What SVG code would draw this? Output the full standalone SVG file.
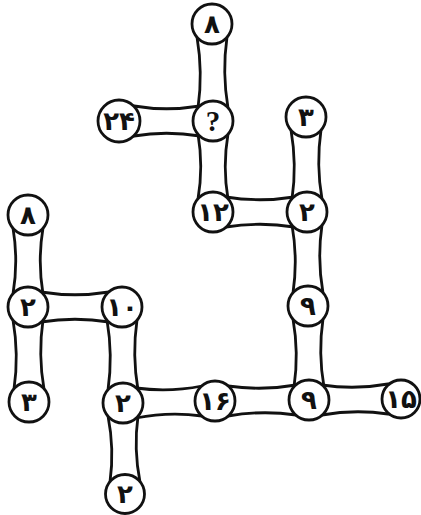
<svg xmlns="http://www.w3.org/2000/svg" width="421" height="515" viewBox="0 0 421 515">
<style>
.t{fill:#fff;stroke:#111;stroke-width:2.8;stroke-linejoin:round}
.c{fill:#fff;stroke:#111;stroke-width:2.8}
.n{font-family:"DejaVu Sans",sans-serif;font-size:26px;font-weight:bold;fill:#111;text-anchor:middle;dominant-baseline:central}
.q{font-family:"Liberation Serif",serif;font-size:29px;font-weight:bold;fill:#111;text-anchor:middle;dominant-baseline:central}
</style>
<rect width="421" height="515" fill="#fff"/>
<g id="connectors">
<path class="t" d="M197,24 L197,37 Q203,72.5 198,108 L198,121 L228,121 L228,108 Q222,72.5 227,37 L227,24 Z"/>
<path class="t" d="M119,106 L134,106 Q166,111.5 200,106 L213,106 L213,136 L200,136 Q166,130.5 134,136 L119,136 Z"/>
<path class="t" d="M198,121 L198,134 Q203.5,166.5 198,199 L198,212 L228,212 L228,199 Q222.5,166.5 228,134 L228,121 Z"/>
<path class="t" d="M213,197 L226,197 Q260,202.5 294,197 L307,197 L307,227 L294,227 Q260,221.5 226,227 L213,227 Z"/>
<path class="t" d="M291,117 L291,130 Q297,164.5 292,199 L292,212 L322,212 L322,199 Q316,164.5 321,130 L321,117 Z"/>
<path class="t" d="M292,212 L292,225 Q298,259 293,293 L293,306 L323,306 L323,293 Q317,259 322,225 L322,212 Z"/>
<path class="t" d="M293,306 L293,319 Q299,353 294,387 L294,400 L324,400 L324,387 Q318,353 323,319 L323,306 Z"/>
<path class="t" d="M13,215 L13,228 Q18.5,261 13,294 L13,307 L43,307 L43,294 Q37.5,261 43,228 L43,215 Z"/>
<path class="t" d="M13,307 L13,320 Q19,354.5 14,389 L14,402 L44,402 L44,389 Q38,354.5 43,320 L43,307 Z"/>
<path class="t" d="M28,292 L41,292 Q75,297.5 109,292 L122,292 L122,322 L109,322 Q75,316.5 41,322 L28,322 Z"/>
<path class="t" d="M107,307 L107,320 Q113,355 108,390 L108,403 L138,403 L138,390 Q132,355 137,320 L137,307 Z"/>
<path class="t" d="M108,403 L108,416 Q114.5,449 110,482 L110,495 L140,495 L140,482 Q133.5,449 138,416 L138,403 Z"/>
<path class="t" d="M123,388 L136,388 Q169,392.5 202,386 L215,386 L215,416 L202,416 Q169,411.5 136,418 L123,418 Z"/>
<path class="t" d="M215,386 L228,386 Q262,391 296,385 L309,385 L309,415 L296,415 Q262,410 228,416 L215,416 Z"/>
<path class="t" d="M309,385 L322,385 Q355,390 388,384 L401,384 L401,414 L388,414 Q355,409 322,415 L309,415 Z"/>
</g>
<g id="nA"><circle class="c" cx="212" cy="24" r="20"/><text class="n" x="212" y="24">۸</text></g>
<g id="nB"><circle class="c" cx="213" cy="121" r="20"/><text class="q" x="213" y="121">?</text></g>
<g id="nC"><circle class="c" cx="119" cy="121" r="21"/><text class="n" x="119" y="121">۲۴</text></g>
<g id="nD"><circle class="c" cx="213" cy="212" r="20"/><text class="n" x="213" y="212">۱۲</text></g>
<g id="nE"><circle class="c" cx="306" cy="117" r="20"/><text class="n" x="306" y="117">۳</text></g>
<g id="nF"><circle class="c" cx="307" cy="212" r="20"/><text class="n" x="307" y="212">۲</text></g>
<g id="nG"><circle class="c" cx="308" cy="306" r="20"/><text class="n" x="308" y="306">۹</text></g>
<g id="nH"><circle class="c" cx="309" cy="400" r="20"/><text class="n" x="309" y="400">۹</text></g>
<g id="nI"><circle class="c" cx="401" cy="399" r="19"/><text class="n" x="401" y="399">۱۵</text></g>
<g id="nJ"><circle class="c" cx="215" cy="401" r="20"/><text class="n" x="215" y="401">۱۶</text></g>
<g id="nK"><circle class="c" cx="123" cy="403" r="20"/><text class="n" x="123" y="403">۲</text></g>
<g id="nL"><circle class="c" cx="125" cy="494" r="19.5"/><text class="n" x="125" y="494">۲</text></g>
<g id="nM"><circle class="c" cx="122" cy="307" r="20"/><text class="n" x="122" y="307">۱۰</text></g>
<g id="nN"><circle class="c" cx="28" cy="307" r="20"/><text class="n" x="28" y="307">۲</text></g>
<g id="nO"><circle class="c" cx="28" cy="215" r="20"/><text class="n" x="28" y="215">۸</text></g>
<g id="nP"><circle class="c" cx="29" cy="402" r="20"/><text class="n" x="29" y="402">۳</text></g>
</svg>
